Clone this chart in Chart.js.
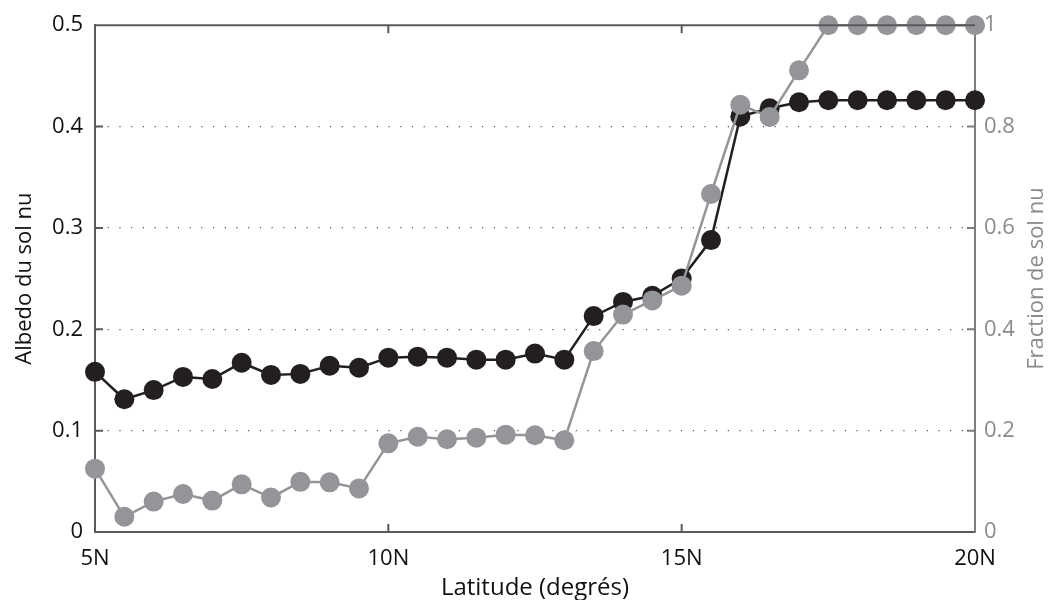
<!DOCTYPE html>
<html>
<head>
<meta charset="utf-8">
<script src="https://cdn.jsdelivr.net/npm/chart.js@4/dist/chart.umd.min.js"></script>
<style>
  html,body{margin:0;padding:0;background:#fff}
  #wrap{width:1052px;height:600px;position:relative}
</style>
</head>
<body>
<div id="wrap"><canvas id="c"></canvas></div>
<script>
// latitude (degrés N), pas de 0.5
const lat = [5,5.5,6,6.5,7,7.5,8,8.5,9,9.5,10,10.5,11,11.5,12,12.5,13,13.5,14,14.5,15,15.5,16,16.5,17,17.5,18,18.5,19,19.5,20];
// albedo du sol nu (axe gauche)
const albedo = [0.158,0.131,0.140,0.153,0.151,0.167,0.155,0.156,0.164,0.162,0.172,0.173,0.172,0.170,0.170,0.176,0.170,0.213,0.227,0.233,0.250,0.288,0.410,0.418,0.424,0.426,0.426,0.426,0.426,0.426,0.426];
// fraction de sol nu (axe droit)
const fraction = [0.125,0.030,0.060,0.075,0.062,0.094,0.068,0.099,0.098,0.086,0.175,0.188,0.183,0.186,0.192,0.191,0.181,0.357,0.429,0.457,0.486,0.667,0.843,0.819,0.911,1,1,1,1,1,1];
const xTicks = [5,10,15,20];
const leftTicks = [0,0.1,0.2,0.3,0.4,0.5];
const rightTicks = [0,0.2,0.4,0.6,0.8,1];

const FONT = "'Open Sans', sans-serif";
const AX = "#5a5a5c", BLACK = "#231f20", GREY = "#939598", GREYTXT = "#8a8b8d";

// cadre du haut, graduations vers l'intérieur (style matlab), titre de droite qui se lit vers le haut
const frame = {
  id: "frame",
  afterDatasetsDraw(chart){
    const {ctx, chartArea:a, scales} = chart;
    ctx.save();
    ctx.strokeStyle = AX; ctx.lineWidth = 2;
    ctx.beginPath(); ctx.moveTo(a.left, a.top); ctx.lineTo(a.right, a.top); ctx.stroke();
    const L = 8;
    ctx.beginPath();
    xTicks.slice(1,-1).forEach(v=>{
      const x = scales.x.getPixelForValue(v);
      ctx.moveTo(x, a.bottom); ctx.lineTo(x, a.bottom - L);
      ctx.moveTo(x, a.top); ctx.lineTo(x, a.top + L);
    });
    leftTicks.slice(1,-1).forEach(v=>{
      const y = scales.y.getPixelForValue(v);
      ctx.moveTo(a.left, y); ctx.lineTo(a.left + L, y);
    });
    ctx.stroke();
    ctx.strokeStyle = "#7d7e80";
    ctx.beginPath();
    rightTicks.slice(1,-1).forEach(v=>{
      const y = scales.y2.getPixelForValue(v);
      ctx.moveTo(a.right, y); ctx.lineTo(a.right - L, y);
    });
    ctx.stroke();
    // titre axe droit
    ctx.translate(1037, (a.top + a.bottom) / 2);
    ctx.rotate(-Math.PI / 2);
    ctx.fillStyle = GREYTXT;
    ctx.font = "22px " + FONT;
    ctx.textAlign = "center"; ctx.textBaseline = "middle";
    ctx.fillText("Fraction de sol nu", 0, 0);
    ctx.restore();
  }
};

new Chart(document.getElementById("c"), {
  type: "line",
  data: {
    labels: lat,
    datasets: [
      {label:"Fraction de sol nu", data: lat.map((x,i)=>({x, y:fraction[i]})), yAxisID:"y2",
       borderColor:GREY, backgroundColor:GREY, borderWidth:2.5, pointRadius:10,
       pointBorderWidth:0, pointBackgroundColor:GREY, clip:false, order:1},
      {label:"Albedo du sol nu", data: lat.map((x,i)=>({x, y:albedo[i]})), yAxisID:"y",
       borderColor:BLACK, backgroundColor:BLACK, borderWidth:2.5, pointRadius:10,
       pointBorderWidth:0, pointBackgroundColor:BLACK, clip:false, order:2}
    ]
  },
  options: {
    responsive:true, maintainAspectRatio:false, animation:false,
    layout:{padding:{top:24, left:0, right:0, bottom:0}},
    plugins:{legend:{display:false}, tooltip:{enabled:false}},
    scales:{
      x:{type:"linear", min:5, max:20,
        afterBuildTicks: s=>{ s.ticks = xTicks.map(v=>({value:v})); },
        afterFit: s=>{ s.height = 68; },
        grid:{display:false, drawTicks:false},
        border:{color:AX, width:2},
        ticks:{padding:14, color:"#111", font:{family:FONT, size:22}, callback:v=>v+"N"},
        title:{display:true, text:"Latitude (degrés)", color:"#111", font:{family:FONT, size:24}, padding:{top:0,bottom:-3}}
      },
      y:{position:"left", min:0, max:0.5,
        afterBuildTicks: s=>{ s.ticks = leftTicks.map(v=>({value:v})); },
        afterFit: s=>{ s.width = 95; },
        grid:{drawTicks:false, lineWidth:1.2,
          color: c=> (c.tick && (c.tick.value===0 || c.tick.value===0.5)) ? "rgba(0,0,0,0)" : "#555"},
        border:{color:AX, width:2, dash:[1.2,10.5]},
        ticks:{padding:12, color:"#111", font:{family:FONT, size:22}},
        title:{display:true, text:"Albedo du sol nu", color:"#111", font:{family:FONT, size:22}, padding:{top:12,bottom:0}}
      },
      y2:{position:"right", min:0, max:1,
        afterBuildTicks: s=>{ s.ticks = rightTicks.map(v=>({value:v})); },
        afterFit: s=>{ s.width = 77; },
        grid:{display:false, drawTicks:false},
        border:{color:"#7d7e80", width:2},
        ticks:{padding:9, color:GREYTXT, font:{family:FONT, size:22}, callback:v=>String(v)},
        title:{display:false}
      }
    }
  },
  plugins:[frame]
});
</script>
</body>
</html>
